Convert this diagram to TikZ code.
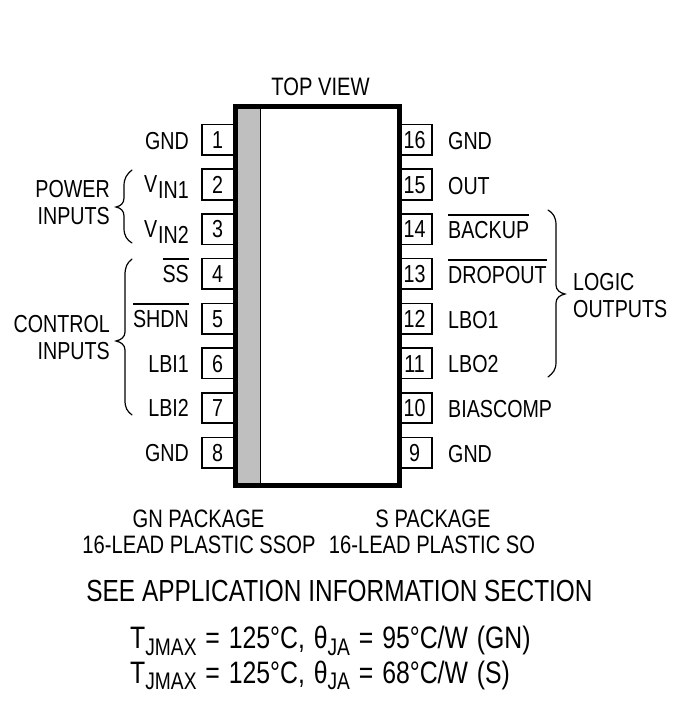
\documentclass[tikz,border=0pt]{standalone}
\usepackage{fontspec}
\setmainfont[FakeStretch=0.8]{Liberation Sans}
\newcommand\ovl[1]{\setbox0\hbox{#1}\rlap{\raisebox{22.5pt}{\rule{\wd0}{1.1pt}}}\box0}
\newcommand\lowtxt[1]{\raisebox{-6pt}{#1}}
\newcommand\subt[1]{\raisebox{-6.5pt}{\fontsize{24}{28}\selectfont #1}}
\newcommand\wsp{\kern2pt\ \kern0pt}
\tikzset{
  x=1pt,y=-1pt,
  lab/.style={inner sep=0pt,font=\fontsize{24.6}{30}\selectfont,text=black},
  pkg/.style={inner sep=0pt,anchor=base,font=\fontsize{25.2}{30}\selectfont,text=black},
  rlab/.style={lab,anchor=base east},
  llab/.style={lab,anchor=base west},
  clab/.style={lab,anchor=base},
  big/.style={inner sep=0pt,anchor=base west,font=\fontsize{31}{36}\selectfont},
  pinbox/.style={draw=black,line width=1.6pt,fill=white},
  bracel/.style={draw=black,line width=1.2pt,line cap=round},
}
\begin{document}
\begin{tikzpicture}
\useasboundingbox (0,0) rectangle (680,717);
\fill[white] (0,0) rectangle (680,717);
% body
\fill[white] (235.5,106.5) rectangle (399.5,485.5);
\fill[black!25] (236,107) rectangle (260,485);
\draw[line width=1.2pt] (260.5,107) -- (260.5,485);
\draw[line width=5pt,miter limit=10] (235.5,106.5) rectangle (399.5,485.5);
% pins
\foreach \n/\t in {1/0,2/1,3/2,4/3,5/4,6/5,7/6,8/7}{
  \pgfmathsetmacro\yy{124.5+44.7*\t}
  \draw[pinbox] (233,\yy) -- (202,\yy) -- (202,\yy+30.5) -- (233,\yy+30.5);
  \node[clab] (p\n) at (217.5,\yy+24) {\n};
}
\foreach \n/\t in {16/0,15/1,14/2,13/3,12/4,11/5,10/6,9/7}{
  \pgfmathsetmacro\yy{124.5+44.7*\t}
  \draw[pinbox] (402,\yy) -- (432,\yy) -- (432,\yy+30.5) -- (402,\yy+30.5);
  \node[clab] (p\n) at (414.5,\yy+24) {\n};
}
% left labels
\node[rlab] (l1) at (189,149) {GND};
\node[rlab] (l2) at (189,192) {V\kern1pt\lowtxt{IN1}};
\node[rlab] (l3) at (189,237) {V\kern1pt\lowtxt{IN2}};
\node[rlab] (l4) at (189,282) {\ovl{SS}};
\node[rlab] (l5) at (189,327) {\ovl{SHDN}};
\node[rlab] (l6) at (189,372) {LBI1};
\node[rlab] (l7) at (189,416) {LBI2};
\node[rlab] (l8) at (189,461) {GND};
% right labels
\node[llab] (r16) at (448,149) {GND};
\node[llab] (r15) at (448,194) {OUT};
\node[llab] (r14) at (448,238) {\ovl{BACKUP}};
\node[llab] (r13) at (448,283) {\ovl{DROPOUT}};
\node[llab] (r12) at (448,328) {LBO1};
\node[llab] (r11) at (448,372) {LBO2};
\node[llab] (r10) at (448,417) {BIASCOMP};
\node[llab] (r9) at (448,462) {GND};
% groups
\node[rlab] (g1) at (110,197) {POWER};
\node[rlab] (g2) at (110,224) {INPUTS};
\node[rlab] (g3) at (110,332) {CONTROL};
\node[rlab] (g4) at (110,359) {INPUTS};
\node[llab] (g5) at (573,290) {LOGIC};
\node[llab] (g6) at (573,317) {OUTPUTS};
% braces
\draw[bracel] (132,170) .. controls (127,174) and (124,178) .. (124,186) -- (124,198) .. controls (124,203) and (121,206) .. (116,207) .. controls (121,208) and (124,211) .. (124,216) -- (124,228) .. controls (124,236) and (127,240) .. (132,243);
\draw[bracel] (132,259) .. controls (127,263) and (125,267) .. (125,275) -- (125,332) .. controls (125,337) and (121,340) .. (116,341) .. controls (121,342) and (125,345) .. (125,350) -- (125,400) .. controls (125,408) and (127,411) .. (132,415);
\draw[bracel] (548,210) .. controls (553,213) and (556,217) .. (556,225) -- (556,285) .. controls (556,290) and (560,293) .. (565,294) .. controls (560,295) and (556,298) .. (556,303) -- (556,362) .. controls (556,370) and (553,373) .. (548,377);
% titles
\node[pkg] (top) at (320.5,95) {TOP VIEW};
\node[pkg] (a1) at (198.5,527) {GN PACKAGE};
\node[pkg] (a2) at (199,553) {16-LEAD PLASTIC SSOP};
\node[pkg] (b1) at (433,527) {S PACKAGE};
\node[pkg] (b2) at (432,553) {16-LEAD PLASTIC SO};
\node[anchor=base,inner sep=0pt,font=\fontsize{30.5}{36}\selectfont] (see) at (339.5,601) {SEE APPLICATION INFORMATION SECTION};
\node[big] (t1) at (130,648.5) {T\subt{JMAX}\wsp=\wsp125°C,\wsp θ\subt{JA}\wsp=\wsp95°C/W\wsp(GN)};
\node[big] (t2) at (130,683) {T\subt{JMAX}\wsp=\wsp125°C,\wsp θ\subt{JA}\wsp=\wsp68°C/W\wsp(S)};
\end{tikzpicture}
\end{document}
